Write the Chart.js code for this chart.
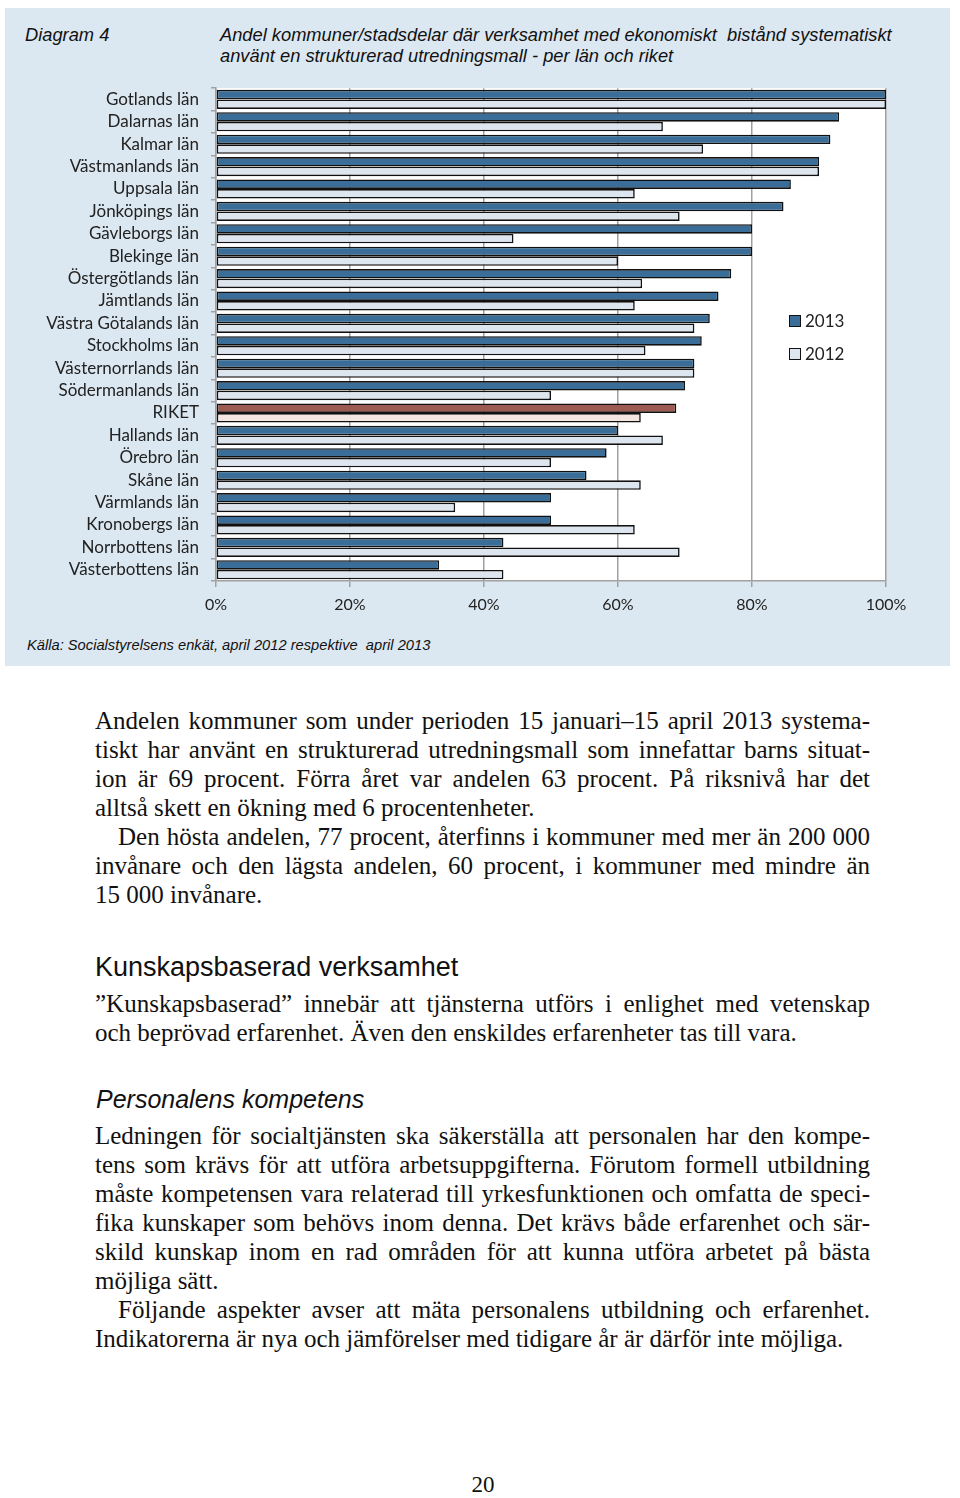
<!DOCTYPE html>
<html>
<head>
<meta charset="utf-8">
<script src="https://cdn.jsdelivr.net/npm/chart.js@4.4.1/dist/chart.umd.min.js"></script>
<style>
  html, body { margin:0; padding:0; background:#fff; }
  body { width:960px; height:1498px; position:relative; overflow:hidden; }
  #panel { position:absolute; left:5px; top:8px; width:945px; height:658px; background:#dce8f1; }
  .t { position:absolute; font-family:"Liberation Sans", Arial, sans-serif; font-style:italic; color:#111; white-space:nowrap; }
  #chartWrap { position:absolute; left:0; top:66px; width:960px; }
  #chartWrap canvas { display:block; }
  .leg { position:absolute; font-family:Lato, "Open Sans", sans-serif; font-size:17px; color:#222; display:flex; align-items:center; white-space:nowrap; }
  .leg i { display:inline-block; width:10px; height:10px; border:1.5px solid #111; margin-right:4px; }
  .ln { position:absolute; left:95px; width:775px; font-family:"Liberation Serif", "Times New Roman", serif; font-size:25px; line-height:29px; color:#111; white-space:nowrap; text-align:justify; text-align-last:justify; }
  .ln.last { text-align:left; text-align-last:left; }
  .ln.ind { left:118px; width:752px; }
  .h1 { position:absolute; left:95px; font-family:"Liberation Sans", Arial, sans-serif; font-size:27px; color:#111; white-space:nowrap; }
  .h2 { position:absolute; left:96px; font-family:"Liberation Sans", Arial, sans-serif; font-style:italic; font-size:25px; color:#111; white-space:nowrap; }
</style>
</head>
<body>
<div id="panel"></div>
<div class="t" style="left:25px; top:24px; font-size:18.3px;">Diagram 4</div>
<div class="t" style="left:220px; top:24px; font-size:18.3px; line-height:21px;">Andel kommuner/stadsdelar där verksamhet med ekonomiskt&nbsp; bistånd systematiskt<br>använt en strukturerad utredningsmall - per län och riket</div>
<div id="chartWrap"><canvas id="c" width="960" height="554"></canvas></div>
<div id="legend"></div>
<div class="t" style="left:27px; top:637px; font-size:14.7px;">Källa: Socialstyrelsens enkät, april 2012 respektive&nbsp; april 2013</div>

<div class="ln" style="top:706px;">Andelen kommuner som under perioden 15 januari–15 april 2013 systema-</div>
<div class="ln" style="top:735px;">tiskt har använt en strukturerad utredningsmall som innefattar barns situat-</div>
<div class="ln" style="top:764px;">ion är 69 procent. Förra året var andelen 63 procent. På riksnivå har det</div>
<div class="ln last" style="top:793px;">alltså skett en ökning med 6 procentenheter.</div>
<div class="ln ind" style="top:822px;">Den hösta andelen, 77 procent, återfinns i kommuner med mer än 200 000</div>
<div class="ln" style="top:851px;">invånare och den lägsta andelen, 60 procent, i kommuner med mindre än</div>
<div class="ln last" style="top:880px;">15 000 invånare.</div>

<div class="h1" style="top:952px;">Kunskapsbaserad verksamhet</div>
<div class="ln" style="top:989px;">”Kunskapsbaserad” innebär att tjänsterna utförs i enlighet med vetenskap</div>
<div class="ln last" style="top:1018px;">och beprövad erfarenhet. Även den enskildes erfarenheter tas till vara.</div>

<div class="h2" style="top:1085px;">Personalens kompetens</div>
<div class="ln" style="top:1121px;">Ledningen för socialtjänsten ska säkerställa att personalen har den kompe-</div>
<div class="ln" style="top:1150px;">tens som krävs för att utföra arbetsuppgifterna. Förutom formell utbildning</div>
<div class="ln" style="top:1179px;">måste kompetensen vara relaterad till yrkesfunktionen och omfatta de speci-</div>
<div class="ln" style="top:1208px;">fika kunskaper som behövs inom denna. Det krävs både erfarenhet och sär-</div>
<div class="ln" style="top:1237px;">skild kunskap inom en rad områden för att kunna utföra arbetet på bästa</div>
<div class="ln last" style="top:1266px;">möjliga sätt.</div>
<div class="ln ind" style="top:1295px;">Följande aspekter avser att mäta personalens utbildning och erfarenhet.</div>
<div class="ln last" style="top:1324px;">Indikatorerna är nya och jämförelser med tidigare år är därför inte möjliga.</div>

<div style="position:absolute; left:0; width:966px; text-align:center; top:1472px; font-family:'Liberation Serif', serif; font-size:23px; color:#111;">20</div>

<script>
const categories = ["Gotlands län","Dalarnas län","Kalmar län","Västmanlands län","Uppsala län","Jönköpings län","Gävleborgs län","Blekinge län","Östergötlands län","Jämtlands län","Västra Götalands län","Stockholms län","Västernorrlands län","Södermanlands län","RIKET","Hallands län","Örebro län","Skåne län","Värmlands län","Kronobergs län","Norrbottens län","Västerbottens län"];
const values2013 = [100, 93, 91.7, 90, 85.8, 84.7, 80, 80, 76.9, 75, 73.7, 72.5, 71.4, 70, 68.7, 60, 58.3, 55.3, 50, 50, 42.9, 33.3];
const values2012 = [100, 66.7, 72.7, 90, 62.5, 69.2, 44.4, 60, 63.6, 62.5, 71.4, 64.1, 71.4, 50, 63.4, 66.7, 50, 63.4, 35.7, 62.5, 69.2, 42.9];
const seriesLabels = ["2013", "2012"];
const xTicks = [0, 20, 40, 60, 80, 100];

const col2013 = "#3a6e99", col2012 = "#dde6ef";
const colRiket2013 = "#9c5a52", colRiket2012 = "#f3e6e2";
const bg2013 = categories.map(c => c === "RIKET" ? colRiket2013 : col2013);
const bg2012 = categories.map(c => c === "RIKET" ? colRiket2012 : col2012);

const legend = document.getElementById("legend");
[[seriesLabels[0], col2013, 310], [seriesLabels[1], col2012, 343]].forEach(([lab, col, top]) => {
  const d = document.createElement("div");
  d.className = "leg";
  d.style.left = "789px"; d.style.top = top + "px";
  d.innerHTML = '<i style="background:' + col + '"></i>' + lab;
  legend.appendChild(d);
});

const whiteArea = {
  id: "whiteArea",
  beforeDraw(chart) {
    const a = chart.chartArea, ctx = chart.ctx;
    ctx.save(); ctx.fillStyle = "#ffffff";
    ctx.fillRect(a.left, a.top, a.right - a.left, a.bottom - a.top);
    ctx.restore();
  }
};

const PLOT_TOP = 88, PLOT_BOTTOM = 581, XAXIS_H = 39;

const chart = new Chart(document.getElementById("c"), {
  type: "bar",
  data: {
    labels: categories,
    datasets: [
      { label: seriesLabels[0], data: values2013, backgroundColor: bg2013, borderColor: "#111", borderWidth: 1.6, borderSkipped: false },
      { label: seriesLabels[1], data: values2012, backgroundColor: bg2012, borderColor: "#111", borderWidth: 1.6, borderSkipped: false }
    ]
  },
  options: {
    indexAxis: "y",
    responsive: false,
    maintainAspectRatio: false,
    animation: false,
    devicePixelRatio: 1,
    categoryPercentage: 0.86,
    barPercentage: 0.98,
    layout: { padding: { top: 0, right: 74, left: 0, bottom: 0 } },
    plugins: { legend: { display: false }, tooltip: { enabled: false } },
    scales: {
      x: {
        min: 0, max: 100,
        afterFit(s) { s.height = XAXIS_H; },
        afterBuildTicks(s) { s.ticks = xTicks.map(v => ({ value: v })); },
        ticks: { callback: v => v + "%", color: "#222", font: { family: "Lato", size: 16 }, padding: 8, maxRotation: 0 },
        grid: { color: "#a0a0a0", lineWidth: 1.5, tickLength: 6 },
        border: { color: "#a0a0a0", width: 1.5 }
      },
      y: {
        afterFit(s) { s.width = 216; },
        ticks: { color: "#222", font: { family: "Lato", size: 17 }, padding: 12, autoSkip: false },
        grid: { drawOnChartArea: false, color: "#a0a0a0", lineWidth: 1.5, tickLength: 5, offset: true },
        border: { color: "#a0a0a0", width: 1.5 }
      }
    }
  },
  plugins: [whiteArea]
});

// place the canvas so the plot area spans the reference's vertical extent
const topPad = chart.chartArea.top;
const newH = Math.round(topPad + (PLOT_BOTTOM - PLOT_TOP) + XAXIS_H);
document.getElementById("chartWrap").style.top = (PLOT_TOP - topPad) + "px";
chart.resize(960, newH);
</script>
</body>
</html>
